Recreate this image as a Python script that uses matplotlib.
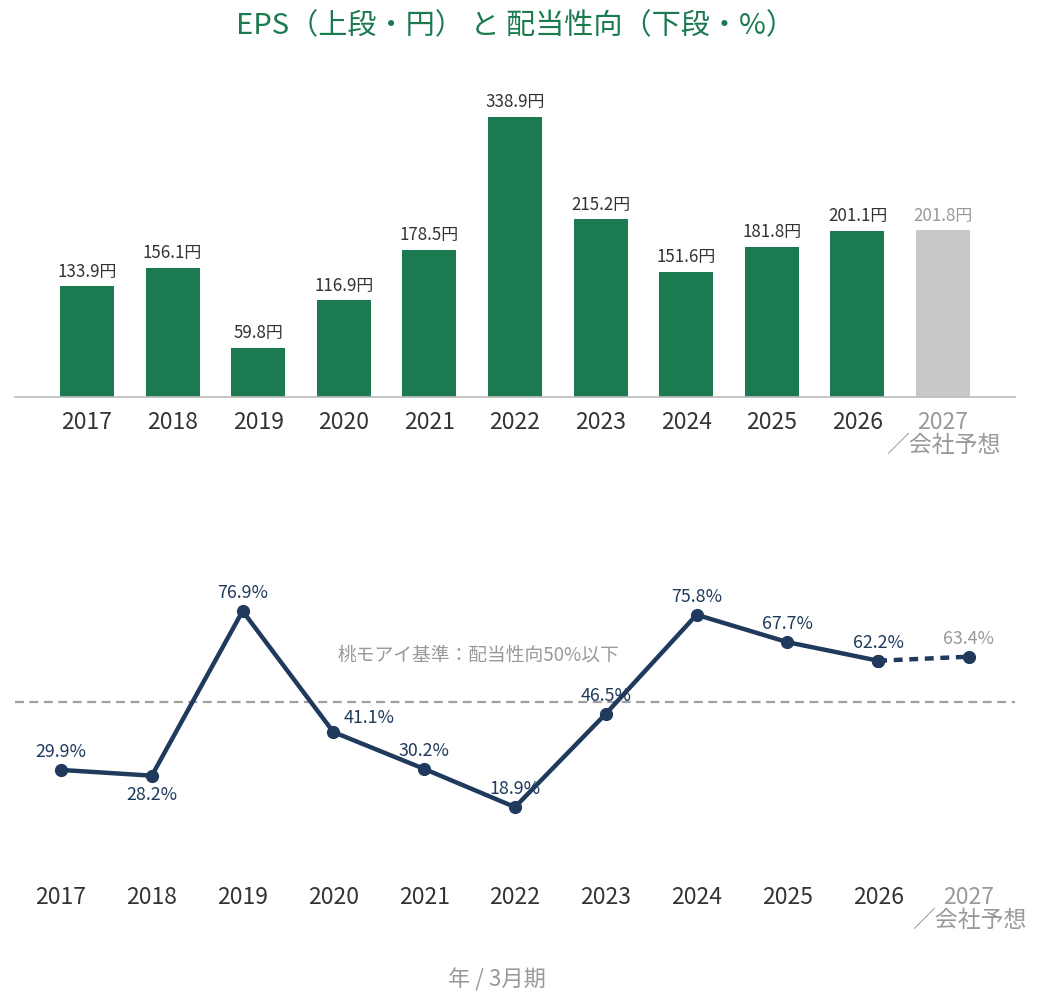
import matplotlib
matplotlib.use("Agg")
import matplotlib.pyplot as plt

plt.rcParams['font.family'] = ['Noto Sans CJK JP', 'DejaVu Sans']

years = ["2017", "2018", "2019", "2020", "2021", "2022", "2023", "2024", "2025", "2026", "2027"]
forecast_suffix = "／会社予想"
eps = [133.9, 156.1, 59.8, 116.9, 178.5, 338.9, 215.2, 151.6, 181.8, 201.1, 201.8]
payout = [29.9, 28.2, 76.9, 41.1, 30.2, 18.9, 46.5, 75.8, 67.7, 62.2, 63.4]
threshold = 50
title = "EPS（上段・円） と 配当性向（下段・%）"
threshold_label = "桃モアイ基準：配当性向50%以下"
xlabel = "年 / 3月期"

GREEN = "#1b7a50"
GREY_BAR = "#c8c8c8"
NAVY = "#1f3a5c"
TXT = "#333333"
LIGHT = "#999999"

W, H = 1038, 1007
fig = plt.figure(figsize=(W / 100, H / 100), dpi=100)

def ax_rect(l, r, t, b):
    return [l / W, 1 - b / H, (r - l) / W, (b - t) / H]

n = len(years)
x = list(range(n))
tick_labels = years[:-1] + [years[-1] + "\n" + forecast_suffix]

# ---- top: EPS bars
ax1 = fig.add_axes(ax_rect(15, 1015, 80, 397))
colors = [GREEN] * (n - 1) + [GREY_BAR]
ax1.bar(x, eps, width=0.63, color=colors)
ax1.set_xlim(-0.84, n - 1 + 0.84)
ax1.set_ylim(0, 383.7)
for i, v in enumerate(eps):
    ax1.annotate(f"{v:.1f}円", (i, v), xytext=(0, 4), textcoords="offset points",
                 ha="center", va="bottom", fontsize=12.2,
                 color=LIGHT if i == n - 1 else TXT)
for s in ["top", "right", "left"]:
    ax1.spines[s].set_visible(False)
ax1.spines["bottom"].set_color("#bbbbbb")
ax1.spines["bottom"].set_linewidth(1.2)
ax1.set_yticks([])
ax1.set_xticks(x)
ax1.set_xticklabels(tick_labels, fontsize=16.5, linespacing=1.0)
ax1.tick_params(axis="x", length=0, pad=10)
for i, lab in enumerate(ax1.get_xticklabels()):
    lab.set_color(LIGHT if i == n - 1 else TXT)

# ---- bottom: payout line
ax2 = fig.add_axes(ax_rect(15, 1015, 560, 871))
ax2.set_xlim(-0.507, n - 1 + 0.507)
ax2.set_ylim(0, 92)
ax2.axhline(threshold, color="#a0a0a0", lw=1.6, ls=(0, (4, 2.5)), zorder=1)
ax2.plot(x[:-1], payout[:-1], color=NAVY, lw=3.2, zorder=3,
         marker="o", markersize=8.5)
ax2.plot(x[-2:], payout[-2:], color=NAVY, lw=3.2, ls=(0, (2, 1.5)), zorder=3,
         marker="o", markersize=8.5)
offsets = [(0, 13), (0, -14), (0, 13), (26, 10), (0, 13), (0, 13), (0, 13),
           (0, 13), (0, 13), (0, 13), (0, 13)]
for i, v in enumerate(payout):
    dx, dy = offsets[i]
    ax2.annotate(f"{v:.1f}%", (i, v), xytext=(dx, dy), textcoords="offset points",
                 ha="center", va="center", fontsize=12.8,
                 color=LIGHT if i == n - 1 else NAVY, zorder=4)
ax2.text(4.6, 63.9, threshold_label, ha="center", va="center", fontsize=13.5, color=LIGHT)
for s in ["top", "right", "left", "bottom"]:
    ax2.spines[s].set_visible(False)
ax2.set_yticks([])
ax2.set_xticks(x)
ax2.set_xticklabels(tick_labels, fontsize=16.5, linespacing=1.0)
ax2.tick_params(axis="x", length=0, pad=11)
for i, lab in enumerate(ax2.get_xticklabels()):
    lab.set_color(LIGHT if i == n - 1 else TXT)

fig.text(497 / W, 1 - 980 / H, xlabel, ha="center", va="center", fontsize=16, color=LIGHT)
fig.text(515 / W, 1 - 26 / H, title, ha="center", va="center", fontsize=21, color=GREEN)

fig.savefig("out.png", dpi=100, facecolor="white")
